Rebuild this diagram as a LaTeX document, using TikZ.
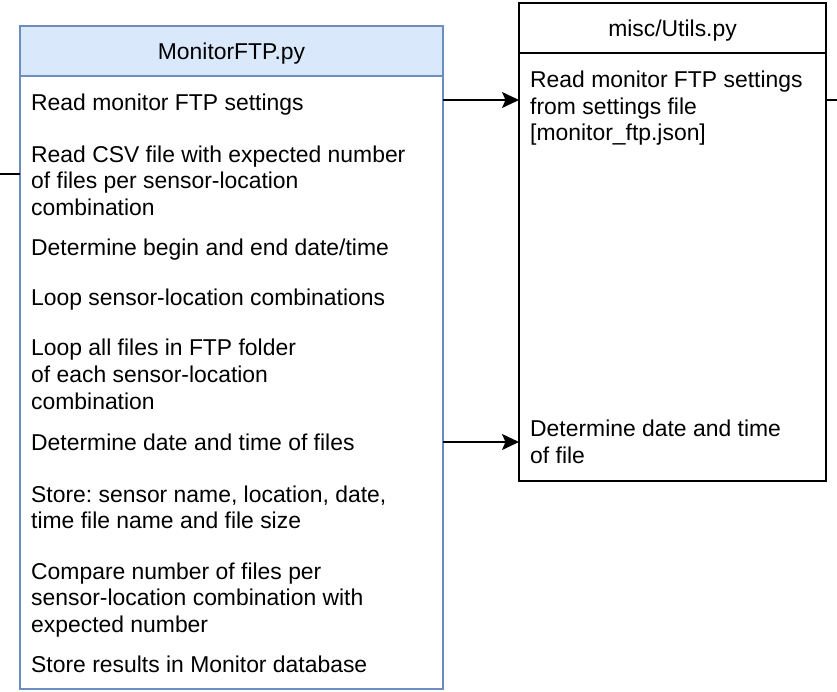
\documentclass[tikz,border=0pt]{standalone}
\usepackage{fontspec}
\setmainfont{Liberation Sans}
\frenchspacing
\usetikzlibrary{arrows.meta}
\definecolor{hdrfill}{HTML}{DAE8FC}
\definecolor{hdrline}{HTML}{6C8EBF}
% multi-line list entry; its baseline is that of the first line
\newcommand{\entrytext}[1]{\parbox[t]{400pt}{\raggedright\fontsize{22.9}{26.7}\selectfont #1}}

\begin{document}
\begin{tikzpicture}[x=1pt,y=-1pt,
  box/.style={draw, line width=1.3pt, anchor=north west, inner sep=0pt, outer sep=0pt},
  bluebox/.style={box, draw=hdrline},
  title/.style={anchor=base, inner sep=0pt, font=\fontsize{22.9}{26.7}\selectfont},
  entry/.style={anchor=base west, inner sep=0pt},
  link/.style={line width=1.4pt},
  arr/.style={link, -{Stealth[length=17pt,width=16pt,inset=3.5pt]}}]
\useasboundingbox (0,0) rectangle (837,691);

% MonitorFTP.py class box
\node[bluebox, fill=white, minimum width=423pt, minimum height=613pt] (mbody) at (20,76) {};
\node[bluebox, fill=hdrfill, minimum width=423pt, minimum height=50pt] (mhead) at (20,26) {};
\node[title] (mtitle) at (231.5,59.3) {MonitorFTP.py};

% misc/Utils.py class box
\node[box, fill=white, minimum width=307pt, minimum height=428pt] (ubody) at (519,53) {};
\node[box, fill=white, minimum width=307pt, minimum height=50pt] (uhead) at (519,3) {};
\node[title] (utitle) at (672.5,36.7) {misc/Utils.py};

% entries of MonitorFTP.py
\node[entry] (m1) at (31,110)   {\entrytext{Read monitor FTP settings}};
\node[entry] (m2) at (31,162)   {\entrytext{Read CSV file with expected number\\of files per sensor-location\\combination}};
\node[entry] (m3) at (31,255)   {\entrytext{Determine begin and end date/time}};
\node[entry] (m4) at (31,305)   {\entrytext{Loop sensor-location combinations}};
\node[entry] (m5) at (31,355.7) {\entrytext{Loop all files in FTP folder\\of each sensor-location\\combination}};
\node[entry] (m6) at (31,450)   {\entrytext{Determine date and time of files}};
\node[entry] (m7) at (31,502)   {\entrytext{Store: sensor name, location, date,\\time file name and file size}};
\node[entry] (m8) at (31,579)   {\entrytext{Compare number of files per\\sensor-location combination with\\expected number}};
\node[entry] (m9) at (31,672.7) {\entrytext{Store results in Monitor database}};

% entries of misc/Utils.py
\node[entry] (u1) at (530,87.3)  {\entrytext{Read monitor FTP settings\\from settings file\\{[}monitor\_ftp.json{]}}};
\node[entry] (u2) at (530,436.7) {\entrytext{Determine date and time\\of file}};

% connector end points
\path (mbody.north east) ++(0,24)  coordinate (a1s);
\path (ubody.north west) ++(0,47)  coordinate (a1e);
\path (mbody.north east) ++(0,366) coordinate (a2s);
\path (ubody.north west) ++(0,389) coordinate (a2e);
\path (mbody.north west) ++(0,98)  coordinate (lin);
\coordinate (lfree) at (0,174);
\path (ubody.north east) ++(0,47)  coordinate (rout);
\coordinate (rfree) at (837,100);

% connectors
\draw[arr] (a1s) -- (a1e);
\draw[arr] (a2s) -- (a2e);
\draw[link] (lfree) -- (lin);
\draw[link] (rout) -- (rfree);
\end{tikzpicture}
\end{document}
